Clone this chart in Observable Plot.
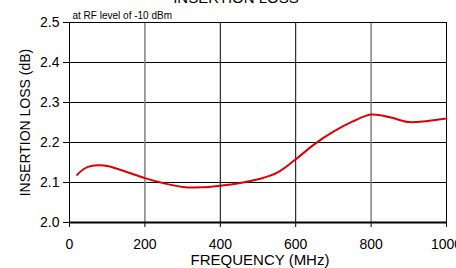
<!DOCTYPE html>
<html>
<head>
<meta charset="utf-8">
<script src="https://cdn.jsdelivr.net/npm/d3@7"></script>
<script src="https://cdn.jsdelivr.net/npm/@observablehq/plot@0.6"></script>
<style>
  html, body { margin: 0; padding: 0; background: #fff; }
  #chart { width: 456px; height: 268px; overflow: hidden; }
</style>
</head>
<body>
<div id="chart"></div>
<script>
const titleText = "INSERTION LOSS";
const subtitleText = "at RF level of -10 dBm";
const xLabel = "FREQUENCY (MHz)";
const yLabel = "INSERTION LOSS (dB)";

const freq = [20, 40, 60, 80, 100, 150, 200, 250, 300, 350, 400, 450, 500, 550, 600, 650, 700, 750, 800, 850, 900, 950, 1000];
const loss = [2.119, 2.135, 2.142, 2.143, 2.141, 2.127, 2.111, 2.098, 2.089, 2.088, 2.092, 2.098, 2.108, 2.124, 2.158, 2.196, 2.227, 2.252, 2.270, 2.263, 2.251, 2.254, 2.260];

const xTicks = [0, 200, 400, 600, 800, 1000];
const yTicks = [2.0, 2.1, 2.2, 2.3, 2.4, 2.5];
const xGridBlack = [400, 600];
const xGridGray = [200, 800];
const yGrid = [2.1, 2.2, 2.3, 2.4];

const data = freq.map((f, i) => ({f, v: loss[i]}));

const plot = Plot.plot({
  width: 456,
  height: 268,
  marginLeft: 69,
  marginRight: 10,
  marginTop: 22,
  marginBottom: 46,
  style: {fontFamily: "'Liberation Sans', Arial, sans-serif", fontSize: "14px", background: "#fff", color: "#000", overflow: "visible"},
  x: {domain: [0, 1000]},
  y: {domain: [2.0, 2.5]},
  marks: [
    Plot.ruleY(yGrid, {stroke: "#000", strokeWidth: 1}),
    Plot.ruleX(xGridBlack, {stroke: "#000", strokeWidth: 1}),
    Plot.ruleX(xGridGray, {stroke: "#808080", strokeWidth: 1.5}),
    Plot.frame({stroke: "#000", strokeWidth: 1}),
    Plot.ruleY([2.0], {stroke: "#000", strokeWidth: 2}),
    Plot.axisX({ticks: xTicks, tickSize: 5, tickPadding: 12, fontSize: 14, tickFormat: d => String(d), label: null, stroke: "#000"}),
    Plot.axisY({ticks: yTicks, tickSize: 6, tickPadding: 4, fontSize: 14, tickFormat: d3.format(".1f"), label: null, stroke: "#000"}),
    Plot.line(data, {x: "f", y: "v", stroke: "#e00000", strokeWidth: 2, curve: "catmull-rom"}),
    Plot.text([xLabel], {frameAnchor: "bottom", dy: 42, dx: 2, fontSize: 15, text: d => d}),
    Plot.text([yLabel], {frameAnchor: "left", dx: -44, rotate: -90, textAnchor: "middle", fontSize: 14, text: d => d}),
    Plot.text([subtitleText], {frameAnchor: "top-left", dx: 3, dy: -11, fontSize: 10, textAnchor: "start", text: d => d}),
    Plot.text([titleText], {frameAnchor: "top", dx: -22, dy: -30, fontSize: 15, text: d => d})
  ]
});
document.getElementById("chart").append(plot);
</script>
</body>
</html>
